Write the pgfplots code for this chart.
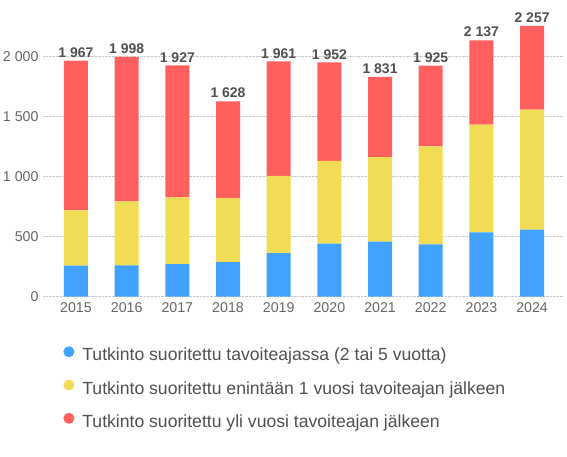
\documentclass[border=0pt]{standalone}
\usepackage{fontspec}
\setmainfont{Liberation Sans}
\usepackage{pgfplots}
\usepackage{pgfplotstable}
\pgfplotsset{compat=1.18}

\definecolor{cblue}{RGB}{64,162,252}
\definecolor{cyellow}{RGB}{243,220,85}
\definecolor{cred}{RGB}{255,96,94}
\definecolor{ticktxt}{RGB}{102,102,102}
\definecolor{valtxt}{RGB}{80,80,80}
\definecolor{legtxt}{RGB}{80,80,80}

% vuosi (0 = 2015), osuudet pinottuina
\pgfplotstableread{
x blue yellow red total
0 258 461 1248 1967
1 261 533 1204 1998
2 272 556 1099 1927
3 289 533 806 1628
4 364 642 955 1961
5 442 689 821 1952
6 458 706 667 1831
7 436 817 672 1925
8 536 897 704 2137
9 558 1000 699 2257
}\data

\pgfplotsset{samebox/.style={
  at={(43pt,160.3pt)}, anchor=south west,
  scale only axis, width=520pt, height=288pt,
  xmin=-0.651, xmax=9.61, ymin=0, ymax=2400, clip=false}}

\begin{document}
\begin{tikzpicture}
\useasboundingbox (0,0) rectangle (567pt,457pt);
\begin{axis}[
  samebox,
  ybar stacked, bar width=24pt,
  axis line style={draw=none},
  major tick length=0pt,
  xtick={0,...,9},
  xticklabels={2015,2016,2017,2018,2019,2020,2021,2022,2023,2024},
  ytick={0,500,1000,1500,2000},
  scaled y ticks=false,
  /pgf/number format/1000 sep={\ },
  /pgf/number format/assume math mode=true,
  tick label style={font=\fontsize{14.2}{17}\selectfont, text=ticktxt},
  xticklabel style={yshift=-2pt},
  yticklabel style={xshift=-1pt},
  ymajorgrids,
  grid style={densely dotted, line width=0.8pt, black!22},
  legend cell align=left,
  legend style={at={(axis description cs:0.033,-0.164)}, anchor=north west,
    draw=none, fill=none, row sep=15pt,
    /tikz/every odd column/.append style={column sep=6pt},
    font=\fontsize{17.6}{20}\selectfont, text=legtxt},
]
\addplot[fill=cblue, draw=none,
  legend image code/.code={\fill[cblue] (2pt,0.35em) circle (5.5pt);}]
  table[x=x, y=blue]{\data};
\addlegendentry{Tutkinto suoritettu tavoiteajassa (2 tai 5 vuotta)}
\addplot[fill=cyellow, draw=none,
  legend image code/.code={\fill[cyellow] (2pt,0.35em) circle (5.5pt);}]
  table[x=x, y=yellow]{\data};
\addlegendentry{Tutkinto suoritettu enintään 1 vuosi tavoiteajan jälkeen}
\addplot[fill=cred, draw=none,
  legend image code/.code={\fill[cred] (2pt,0.35em) circle (5.5pt);}]
  table[x=x, y=red]{\data};
\addlegendentry{Tutkinto suoritettu yli vuosi tavoiteajan jälkeen}
\end{axis}
% summat pylväiden päällä
\begin{axis}[samebox, hide axis,
  /pgf/number format/1000 sep={\ },
  /pgf/number format/assume math mode=true]
\addplot[draw=none, mark=none,
  point meta=y,
  nodes near coords={\pgfmathprintnumber{\pgfplotspointmeta}},
  nodes near coords style={font=\bfseries\fontsize{14}{16}\selectfont, text=valtxt, anchor=south, inner sep=3pt}]
  table[x=x, y=total]{\data};
\end{axis}
\end{tikzpicture}
\end{document}
